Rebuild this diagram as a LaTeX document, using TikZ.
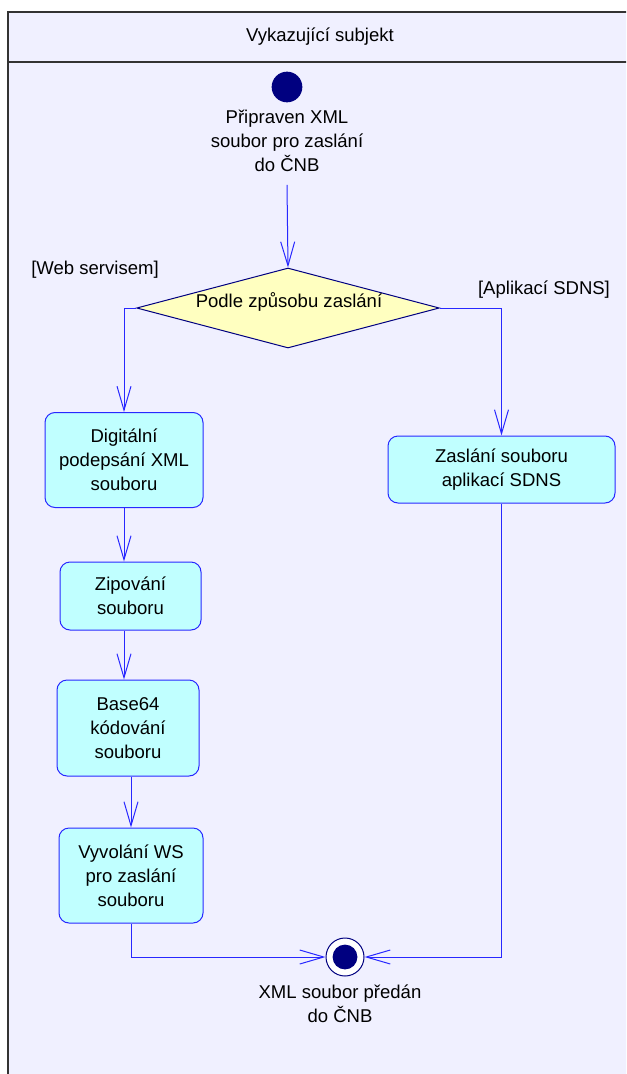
\documentclass[tikz,border=0pt]{standalone}
\usepackage{fontspec}
\setmainfont{Liberation Sans}
\usetikzlibrary{positioning, shapes.geometric, arrows.meta}

\definecolor{lane}{HTML}{F0F0FF}
\definecolor{actfill}{HTML}{C0FFFF}
\definecolor{decfill}{HTML}{FFFFC0}
\definecolor{darknavy}{HTML}{000080}
\definecolor{flow}{HTML}{2828FF}

\begin{document}
\begin{tikzpicture}[x=0.75pt, y=-0.75pt, font=\fontsize{13.9}{18}\selectfont,
    act/.style = {draw=flow, fill=actfill, rounded corners=7.5pt, align=center, line width=0.75pt},
    dec/.style = {diamond, draw=darknavy, fill=decfill, inner sep=0pt, minimum width=227pt, minimum height=60pt, line width=0.75pt},
    startnode/.style = {circle, fill=darknavy, inner sep=0pt, minimum size=23pt},
    endnode/.style = {circle, draw=darknavy, fill=white, inner sep=0pt, minimum size=28.5pt, line width=0.75pt,
        path picture={\fill[darknavy] (path picture bounding box.center) circle (9.3pt);}},
    lbl/.style = {align=center, inner sep=2pt},
    flowline/.style = {draw=flow, line width=0.75pt, -{Straight Barb[length=18pt, width=10.5pt]}}]
    \clip (0,0) rectangle (626,1074);
    \draw[fill=lane, draw=black!80, line width=1.1pt] (8,12) rectangle (640,1090);
    \draw[black!80, line width=1.1pt] (8,62) -- (640,62);
    \node (title) at (320,37) {Vykazující subjekt};

    \node[startnode] (start) at (287,87) {};
    \node[lbl] (startlbl) at (287,141) {Připraven XML\\soubor pro zaslání\\do ČNB};
    \node[dec] (dec) at (288,308) {};
    \node (dectext) at (289,302) {Podle způsobu zaslání};
    \node (gweb) at (95,270) {[Web servisem]};
    \node (gsdns) at (544,290) {[Aplikací SDNS]};

    \node[act, minimum width=118.5pt, minimum height=71.25pt] (dig) at (124,460) {Digitální\\podepsání XML\\souboru};
    \node[act, minimum width=170.25pt, minimum height=50.25pt] (zas) at (501.5,469.5) {Zaslání souboru\\aplikací SDNS};
    \node[act, minimum width=105.75pt, minimum height=51pt] (zip) at (130.5,596) {Zipování\\souboru};
    \node[act, minimum width=106.5pt, minimum height=72pt] (b64) at (128,728) {Base64\\kódování\\souboru};
    \node[act, minimum width=108pt, minimum height=71.25pt] (vyv) at (131,875.5) {Vyvolání WS\\pro zaslání\\souboru};

    \node[endnode] (end) at (345,957) {};
    \node[lbl] (endlbl) at (340,1004) {XML soubor předán\\do ČNB};

    \draw[flowline] ([yshift=-7.5pt]startlbl.south) -- (dec.north);

    \draw[flowline] (dec.west) -| (dig.north);
    \draw[flowline] (dec.east) -| (zas.north);

    \draw[flowline] (dig) -- (zip.north -| dig);
    \draw[flowline] (zip.south -| dig) -- (b64.north -| dig);
    \draw[flowline] (b64.south -| vyv) -- (vyv.north);

    \draw[flowline] (vyv) |- (end);
    \draw[flowline] (zas) |- (end);
\end{tikzpicture}
\end{document}
